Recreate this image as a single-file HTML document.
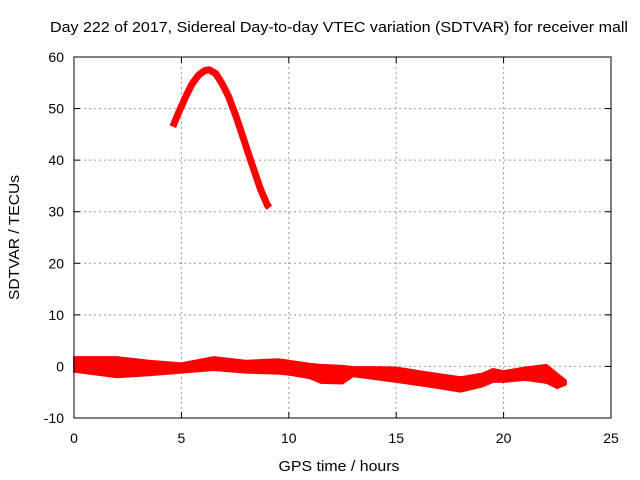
<!DOCTYPE html>
<html><head><meta charset="utf-8"><style>
body{margin:0;background:#fff;}
svg{display:block;font-family:"Liberation Sans",sans-serif;}
</style></head><body>
<svg id="chart" width="640" height="480">
<text x="339" y="32" font-size="15" text-anchor="middle" textLength="578" lengthAdjust="spacingAndGlyphs">Day 222 of 2017, Sidereal Day-to-day VTEC variation (SDTVAR) for receiver mall</text>
<text x="339" y="471" font-size="15" text-anchor="middle" textLength="121" lengthAdjust="spacingAndGlyphs">GPS time / hours</text>
<text transform="translate(19,237.5) rotate(-90)" font-size="15" text-anchor="middle" textLength="125" lengthAdjust="spacingAndGlyphs">SDTVAR / TECUs</text>
<g id="grid"></g><g id="ticks"></g><g id="series"></g>
<rect x="74" y="57" width="537" height="361" fill="none" stroke="#000" stroke-width="1"/>
</svg>
<script>
const xTicks=[0,5,10,15,20,25];
const yTicks=[-10,0,10,20,30,40,50,60];
// arc series (hours, TECU)
const arcX=[4.6,4.9,5.2,5.5,5.8,6.1,6.3,6.6,6.9,7.2,7.5,7.8,8.1,8.4,8.7,9.0,9.1];
const arcY=[46.5,49.5,52.3,54.8,56.5,57.4,57.5,56.8,54.8,52.3,49.0,45.3,41.5,37.8,34.2,31.3,30.8];
// band series: hours, upper and lower envelope
const bandX=[0,2,3.5,5,6.5,8,9.5,10,11,11.5,12.5,13,15,16.5,18,19,19.5,20,21,22,22.5,22.9];
const bandUp=[1.8,1.8,1.1,0.6,1.8,1.1,1.4,1.1,0.5,0.3,0.1,-0.1,-0.2,-1.2,-2.1,-1.4,-0.5,-0.9,-0.2,0.3,-1.4,-2.7];
const bandLo=[-1.0,-2.1,-1.7,-1.2,-0.7,-1.2,-1.4,-1.6,-2.3,-3.2,-3.3,-1.9,-3.0,-3.9,-4.9,-3.9,-3.0,-3.0,-2.6,-3.2,-4.2,-3.5];
const X0=74,X1=611,Y0=418,Y1=57;
const sx=v=>X0+(v-0)/25*(X1-X0);
const sy=v=>Y0-(v+10)/70*(Y0-Y1);
const NS='http://www.w3.org/2000/svg';
function mk(tag,attrs,parent){const e=document.createElementNS(NS,tag);for(const k in attrs)e.setAttribute(k,attrs[k]);parent.appendChild(e);return e;}
const grid=document.getElementById('grid'),ticks=document.getElementById('ticks'),ser=document.getElementById('series');
xTicks.forEach(t=>{
  const x=sx(t);
  if(t>0&&t<25){const g=mk('line',{x1:x,x2:x,y1:Y1,y2:Y0,stroke:'#999','stroke-dasharray':'2,3'},grid);
  
  }
  mk('line',{x1:x,x2:x,y1:Y0,y2:Y0-6,stroke:'#000'},ticks);
  mk('line',{x1:x,x2:x,y1:Y1,y2:Y1+6,stroke:'#000'},ticks);
  const l=mk('text',{x:x,y:443,'font-size':14,'text-anchor':'middle'},ticks);l.textContent=t;
  
  
});
yTicks.forEach(t=>{
  const y=sy(t);
  if(t>-10&&t<60){const g=mk('line',{x1:X0,x2:X1,y1:y,y2:y,stroke:'#999','stroke-dasharray':'2,3'},grid);
  
  }
  mk('line',{x1:X0,x2:X0+6,y1:y,y2:y,stroke:'#000'},ticks);
  mk('line',{x1:X1,x2:X1-6,y1:y,y2:y,stroke:'#000'},ticks);
  const l=mk('text',{x:64,y:y+5,'font-size':14,'text-anchor':'end'},ticks);l.textContent=t;
  
  
});
const arc=mk('polyline',{points:arcX.map((v,i)=>sx(v)+','+sy(arcY[i])).join(' '),fill:'none',stroke:'#f00','stroke-width':7,'stroke-linejoin':'round'},ser);


const pts=bandX.map((v,i)=>sx(v)+','+sy(bandUp[i])).concat(bandX.map((v,i)=>sx(v)+','+sy(bandLo[i])).reverse());
const band=mk('polygon',{points:pts.join(' '),fill:'#f00',stroke:'#f00','stroke-width':2,'stroke-linejoin':'round'},ser);


</script>
</body></html>
